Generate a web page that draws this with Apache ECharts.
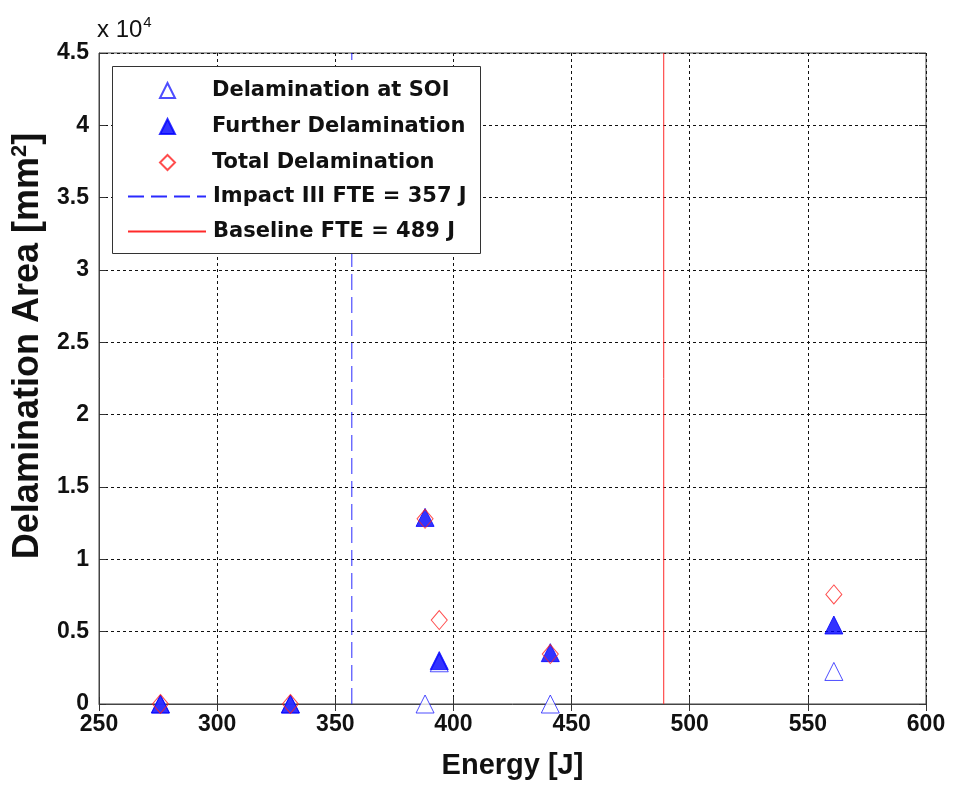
<!DOCTYPE html>
<html>
<head>
<meta charset="utf-8">
<script src="https://cdn.jsdelivr.net/npm/echarts@6/dist/echarts.min.js"></script>
<style>
  html, body { margin: 0; padding: 0; background: #fff; }
  #chart { width: 954px; height: 787px; }
</style>
</head>
<body>
<div id="chart"></div>
<script>
var energy = [276, 331, 388, 394, 441, 561];          // 能量 (J)
var soi = [0, 0, 0, 2850, 0, 2250];                    // Delamination at SOI
var further = [0, 0, 12900, 3000, 3550, 5460];         // Further Delamination
var total = [0, 0, 12800, 5800, 3450, 7570];           // Total Delamination
var fteImpact = 357;
var fteBaseline = 489;
var yMax = 45000;

var font = 'Liberation Sans';
var legendFont = 'DejaVu Sans';

function pairs(xs, ys) {
	var out = [];
	for (var i = 0; i < xs.length; i++) out.push([xs[i], ys[i]]);
	return out;
}

var myChart = echarts.init(document.getElementById('chart'));

var hiddenAxis = {
	axisLine: { show: false },
	axisLabel: { show: false },
	splitLine: { show: false },
	axisTick: { show: true, inside: true, length: 7, lineStyle: { color: '#333' } }
};

myChart.setOption({
	animation: false,
	backgroundColor: '#fff',
	textStyle: { fontFamily: font },
	grid: {
		left: 99, right: 28, top: 53, bottom: 83,
		show: true, borderColor: '#444', borderWidth: 1
	},
	xAxis: [{
		type: 'value', min: 250, max: 600, interval: 50,
		name: 'Energy [J]', nameLocation: 'middle', nameGap: 47,
		nameTextStyle: { fontSize: 29, fontWeight: 'bold', color: '#111', fontFamily: font },
		axisLine: { show: true, lineStyle: { color: '#444' } },
		axisTick: { inside: true, length: 7, lineStyle: { color: '#333' } },
		axisLabel: { fontSize: 23, fontWeight: 'bold', color: '#111', margin: 9, fontFamily: font },
		splitLine: { show: true, lineStyle: { color: '#111', type: [3, 3] } }
	}, Object.assign({ type: 'value', min: 250, max: 600, interval: 50, position: 'top' }, hiddenAxis)],
	yAxis: [{
		type: 'value', min: 0, max: yMax, interval: 5000,
		axisLine: { show: true, lineStyle: { color: '#444' } },
		axisTick: { inside: true, length: 7, lineStyle: { color: '#333' } },
		axisLabel: {
			fontSize: 23, fontWeight: 'bold', color: '#111', margin: 10, fontFamily: font,
			formatter: function (v) { return String(v / 10000); }
		},
		splitLine: { show: true, lineStyle: { color: '#111', type: [3, 3] } }
	}, Object.assign({ type: 'value', min: 0, max: yMax, interval: 5000, position: 'right' }, hiddenAxis)],
	legend: [{
		orient: 'vertical', left: 159, top: 80,
		itemWidth: 15, itemHeight: 15, itemGap: 15, padding: 0,
		textStyle: { fontSize: 21, fontWeight: 'bold', color: '#111', padding: [0, 0, 0, 32], fontFamily: legendFont },
		data: ['Delamination at SOI', 'Further Delamination', 'Total Delamination']
	}, {
		orient: 'vertical', left: 127, top: 186,
		itemWidth: 78, itemHeight: 14, itemGap: 14, padding: 0,
		itemStyle: { opacity: 0 },
		textStyle: { fontSize: 21, fontWeight: 'bold', color: '#111', padding: [0, 0, 0, 2], fontFamily: legendFont },
		data: ['Impact III FTE = 357 J', 'Baseline FTE = 489 J']
	}],
	graphic: [{
		type: 'rect', left: 112, top: 66, z: 3,
		shape: { width: 368, height: 187 },
		style: { fill: '#fff', stroke: '#333', lineWidth: 1 }
	}, {
		type: 'text', left: 97, top: 15, z: 5,
		style: {
			text: 'x 10{sup|4}', fontSize: 24, fill: '#111', fontFamily: font,
			rich: { sup: { fontSize: 15, verticalAlign: 'top', padding: [0, 0, 16, 1], fontFamily: font } }
		}
	}, {
		type: 'text', x: 28, y: 346, rotation: Math.PI / 2, z: 5,
		style: {
			text: 'Delamination Area [mm{sup|2}]', fontSize: 36, fontWeight: 'bold', fill: '#111',
			fontFamily: font, align: 'center', verticalAlign: 'middle',
			rich: { sup: { fontSize: 22, fontWeight: 'bold', verticalAlign: 'top', padding: [0, 0, 16, 0], fontFamily: font } }
		}
	}],
	series: [{
		name: 'Delamination at SOI', type: 'scatter', symbol: 'triangle', symbolSize: 18,
		itemStyle: { color: '#fff', borderColor: '#2020ff', borderWidth: 1 },
		data: pairs(energy, soi), z: 2
	}, {
		name: 'Further Delamination', type: 'scatter', symbol: 'triangle', symbolSize: 18,
		itemStyle: { color: '#0000ff', borderColor: '#0000ff', borderWidth: 1 },
		data: pairs(energy, further), z: 2
	}, {
		name: 'Total Delamination', type: 'scatter', symbol: 'diamond', symbolSize: [16, 19],
		itemStyle: { color: 'rgba(0,0,0,0)', borderColor: '#ff2020', borderWidth: 1 },
		data: pairs(energy, total), z: 2
	}, {
		name: 'Impact III FTE = 357 J', type: 'line', symbol: 'none',
		lineStyle: { color: '#2a2aff', width: 1, type: [16, 7] },
		itemStyle: { color: '#2a2aff' },
		data: [[fteImpact, 0], [fteImpact, yMax]], z: 1
	}, {
		name: 'Baseline FTE = 489 J', type: 'line', symbol: 'none',
		lineStyle: { color: '#ff2a2a', width: 1 },
		itemStyle: { color: '#ff2a2a' },
		data: [[fteBaseline, 0], [fteBaseline, yMax]], z: 1
	}]
});
</script>
</body>
</html>
